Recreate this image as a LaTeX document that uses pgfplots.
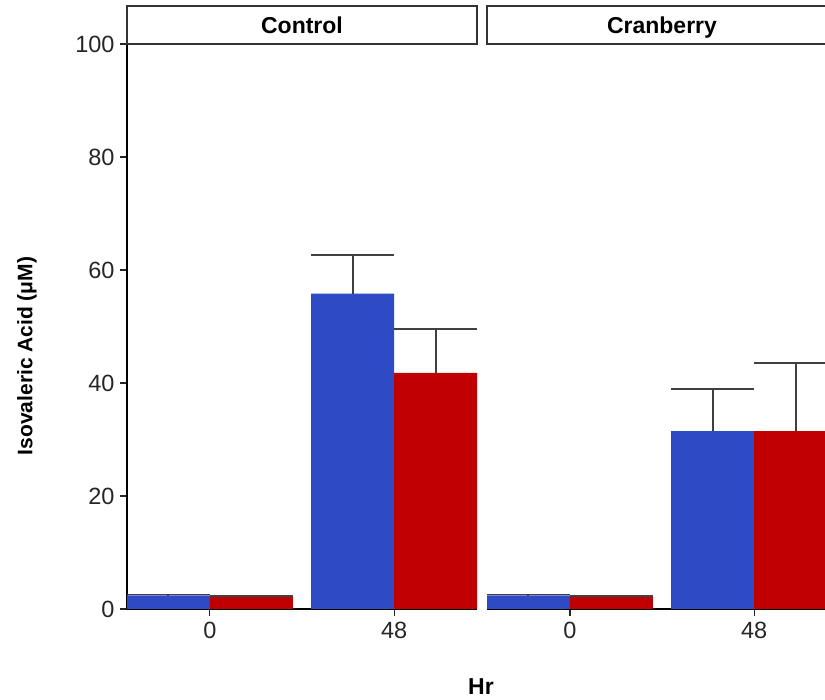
\documentclass[border=0pt]{standalone}
\usepackage{fontspec}
\setmainfont{Liberation Sans}
\usepackage{pgfplots}
\pgfplotsset{compat=1.18}
\definecolor{cblue}{RGB}{46,74,196}
\definecolor{cred}{RGB}{192,0,0}
\definecolor{egrey}{RGB}{64,64,64}
\begin{document}
\begin{tikzpicture}[x=1pt,y=1pt]
\clip (0,0) rectangle (825,700);
\pgfplotsset{
  panel/.style={
    scale only axis, width=350pt, height=565pt, anchor=south west,
    xmin=0.55, xmax=2.45, ymin=0, ymax=100,
    axis x line*=bottom,
    xtick={1,2}, xticklabels={0,48},
    tick style={black!85, line width=1.2pt}, tick align=outside, major tick length=7pt,
    ticklabel style={font=\fontsize{23.5}{23.5}\selectfont, text=black!85},
    /pgf/number format/assume math mode=true,
    axis line style={line width=1.6pt, black},
    ybar, bar width=0.45,
    xticklabel style={yshift=-3pt},
    yticklabel style={xshift=-2pt},
  },
  eb/.style={line width=2pt, error bars/.cd, y dir=plus, y explicit, error mark=|,
    error bar style={draw=egrey, line width=2pt},
    error mark options={draw=egrey, line width=1.6pt, mark size=41.25pt}},
}
\begin{axis}[panel, at={(127pt,91pt)}, axis y line*=left, ytick={0,20,...,100}]
\addplot[fill=cblue, draw=none, bar shift=-0.225, eb]
  coordinates {(1,2.4) +- (0,0.15) (2,55.8) +- (0,6.9)};
\addplot[fill=cred, draw=none, bar shift=0.225, eb]
  coordinates {(1,2.1) +- (0,0.15) (2,41.8) +- (0,7.8)};
\end{axis}
\begin{axis}[panel, at={(487pt,91pt)}, axis y line=none]
\addplot[fill=cblue, draw=none, bar shift=-0.225, eb]
  coordinates {(1,2.4) +- (0,0.15) (2,31.5) +- (0,7.4)};
\addplot[fill=cred, draw=none, bar shift=0.225, eb]
  coordinates {(1,2.2) +- (0,0.15) (2,31.5) +- (0,12.0)};
\end{axis}
% strips
\draw[black!80, line width=1.6pt, fill=white] (127,656) rectangle (477,694);
\draw[black!80, line width=1.6pt, fill=white] (487,656) rectangle (837,694);
\node[font=\fontsize{23}{23}\selectfont\bfseries, anchor=base] at (302,666) {Control};
\node[font=\fontsize{23}{23}\selectfont\bfseries, anchor=base] at (662,666) {Cranberry};
% axis titles
\node[font=\fontsize{21}{21}\selectfont\bfseries, rotate=90] at (27,344) {Isovaleric Acid (μM)};
\node[font=\fontsize{23}{23}\selectfont\bfseries] at (481,13) {Hr};
\end{tikzpicture}
\end{document}
